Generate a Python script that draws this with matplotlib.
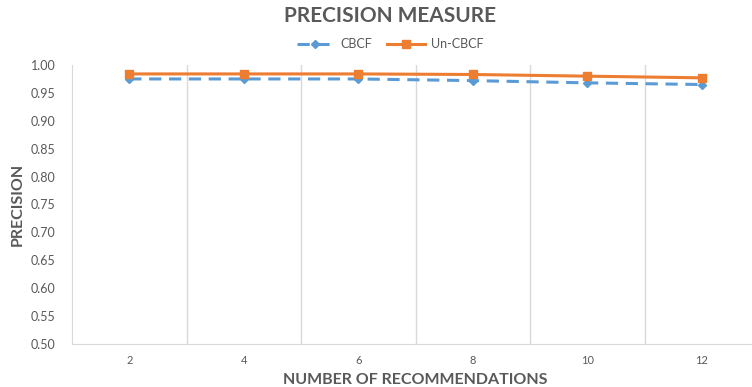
import numpy as np
from matplotlib import pyplot as plt

# data
n_recs = [2, 4, 6, 8, 10, 12]
cbcf = [0.975, 0.975, 0.975, 0.972, 0.968, 0.965]
un_cbcf = [0.984, 0.984, 0.984, 0.983, 0.980, 0.977]

plt.rcParams['font.family'] = ['Lato', 'DejaVu Sans']
grey = '#595959'
grid = '#D9D9D9'

fig = plt.figure(figsize=(7.52, 3.87), dpi=100)
ax = fig.add_axes([72 / 752, 1 - 344 / 387, 687 / 752, 279 / 387])

x = np.arange(len(n_recs))
ax.plot(x, cbcf, color='#5B9BD5', ls='--', lw=2.2, marker='D', ms=4.5,
        label='CBCF', dashes=(4, 2.5))
ax.plot(x, un_cbcf, color='#ED7D31', ls='-', lw=2.2, marker='s', ms=6,
        label='Un-CBCF')

ax.set_xlim(-0.5, len(n_recs) - 0.5)
ax.set_ylim(0.5, 1.0)
ax.set_xticks(x)
ax.set_xticklabels([str(v) for v in n_recs])
ax.set_yticks(np.arange(0.5, 1.001, 0.05))
ax.set_yticklabels(['%.2f' % v for v in np.arange(0.5, 1.001, 0.05)])
ax.set_xticks(np.arange(0.5, len(n_recs) - 1, 1), minor=True)
ax.grid(which='minor', axis='x', color=grid, lw=1)
ax.tick_params(which='both', length=0)
ax.tick_params(axis='x', labelsize=8, colors=grey, pad=8)
ax.tick_params(axis='y', labelsize=9, colors=grey, pad=12)

for s in ['top', 'right']:
    ax.spines[s].set_visible(False)
ax.spines['left'].set_color(grid)
ax.spines['bottom'].set_color(grid)

ax.set_xlabel('NUMBER OF RECOMMENDATIONS', fontsize=11.5, fontweight='bold',
              color=grey, labelpad=5)
ax.set_ylabel('PRECISION', fontsize=11.5, fontweight='bold', color=grey,
              labelpad=4)

fig.text(390 / 752, 1 - 16 / 387, 'PRECISION MEASURE', ha='center',
         va='center', fontsize=15, fontweight='bold', color=grey)
fig.legend(loc='center', bbox_to_anchor=(390 / 752, 1 - 44 / 387), ncol=2,
           frameon=False, fontsize=9, labelcolor=grey, handlelength=3,
           columnspacing=1.2, handletextpad=0.5)

fig.savefig('out.png', dpi=100)
